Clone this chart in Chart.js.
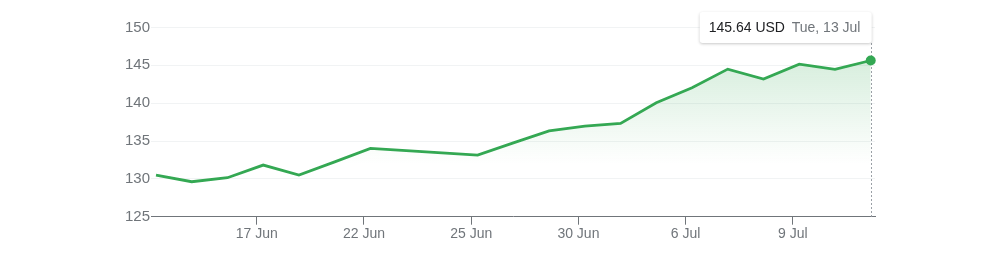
<!DOCTYPE html>
<html>
<head>
<meta charset="utf-8">
<script src="https://cdn.jsdelivr.net/npm/chart.js@4"></script>
<style>
  html, body { margin: 0; padding: 0; background: #fff; }
  #wrap { width: 1000px; height: 255px; }
</style>
</head>
<body>
<div id="wrap"><canvas id="priceChart" width="1000" height="255"></canvas></div>
<script>
// trading days, 14 Jun - 13 Jul
const days = ['14 Jun', '15 Jun', '16 Jun', '17 Jun', '18 Jun', '21 Jun', '22 Jun', '23 Jun', '24 Jun', '25 Jun',
  '28 Jun', '29 Jun', '30 Jun', '1 Jul', '2 Jul', '6 Jul', '7 Jul', '8 Jul', '9 Jul', '12 Jul', '13 Jul'];
const prices = [130.5, 129.62, 130.15, 131.82, 130.5, 132.25, 134.03, 133.73, 133.43, 133.14,
  134.75, 136.35, 136.97, 137.33, 140.05, 142.03, 144.5, 143.18, 145.16, 144.46, 145.64];
const tickDays = ['17 Jun', '22 Jun', '25 Jun', '30 Jun', '6 Jul', '9 Jul'];
const yTicks = [125, 130, 135, 140, 145, 150];
const lastLabel = { price: '145.64 USD', date: 'Tue, 13 Jul' };

const green = '#34a853';
const grey = '#70757a';
const font = "Arial, 'Liberation Sans', sans-serif";

// persistent hover box + dotted line on the last point
const lastPointBox = {
  id: 'lastPointBox',
  afterDatasetsDraw(chart) {
    const ctx = chart.ctx;
    const xs = chart.scales.x, ys = chart.scales.y;
    const i = prices.length - 1;
    const px = xs.getPixelForValue(i);
    const py = ys.getPixelForValue(prices[i]);
    const boxR = px + 1, boxL = boxR - 172, boxT = 12, boxB = 43;

    ctx.save();
    ctx.strokeStyle = '#9aa0a6';
    ctx.lineWidth = 1;
    ctx.setLineDash([2, 2]);
    ctx.beginPath();
    ctx.moveTo(Math.round(px) + 0.5, boxB);
    ctx.lineTo(Math.round(px) + 0.5, ys.bottom);
    ctx.stroke();
    ctx.setLineDash([]);

    ctx.shadowColor = 'rgba(0,0,0,0.22)';
    ctx.shadowBlur = 3;
    ctx.shadowOffsetY = 1;
    ctx.fillStyle = '#fff';
    ctx.beginPath();
    ctx.roundRect(boxL, boxT, boxR - boxL, boxB - boxT, 3);
    ctx.fill();
    ctx.shadowColor = 'transparent';

    ctx.font = '14px ' + font;
    ctx.textBaseline = 'middle';
    ctx.fillStyle = '#202124';
    ctx.fillText(lastLabel.price, boxL + 9, 28);
    ctx.fillStyle = grey;
    ctx.fillText(lastLabel.date, boxL + 92, 28);

    ctx.fillStyle = green;
    ctx.beginPath();
    ctx.arc(px, py, 5, 0, Math.PI * 2);
    ctx.fill();
    ctx.restore();
  }
};

new Chart(document.getElementById('priceChart').getContext('2d'), {
  type: 'line',
  data: {
    labels: days,
    datasets: [{
      data: prices.map((p, i) => ({ x: i, y: p })),
      borderColor: green,
      borderWidth: 2.8,
      pointRadius: 0,
      tension: 0,
      fill: 'start',
      backgroundColor: (c) => {
        const { chart } = c;
        const ys = chart.scales.y;
        if (!chart.chartArea || !ys) return 'rgba(52,168,83,0.1)';
        const y0 = ys.getPixelForValue(146), y1 = ys.getPixelForValue(132);
        if (!isFinite(y0) || !isFinite(y1)) return 'rgba(52,168,83,0.1)';
        const g = chart.ctx.createLinearGradient(0, y0, 0, y1);
        g.addColorStop(0, 'rgba(52,168,83,0.2)');
        g.addColorStop(1, 'rgba(52,168,83,0)');
        return g;
      }
    }]
  },
  options: {
    responsive: false,
    animation: false,
    layout: { padding: { left: 0, right: 125, top: 27.5, bottom: 0 } },
    plugins: { legend: { display: false }, tooltip: { enabled: false } },
    scales: {
      x: {
        type: 'linear',
        min: -0.14,
        max: 20.12,
        afterBuildTicks: (s) => {
          s.ticks = tickDays.map(d => ({ value: days.indexOf(d) - 0.18 }));
        },
        afterFit: (s) => { s.height = 38.3; },
        ticks: {
          autoSkip: false,
          maxRotation: 0,
          padding: 1,
          color: grey,
          font: { family: font, size: 14 },
          callback: (v) => days[Math.round(v)]
        },
        grid: { drawOnChartArea: false, drawTicks: true, tickLength: 8, color: grey },
        border: { display: true, color: grey, width: 1 }
      },
      y: {
        min: 125,
        max: 150,
        afterBuildTicks: (s) => { s.ticks = yTicks.map(v => ({ value: v })); },
        afterFit: (s) => { s.width = 151; },
        ticks: {
          padding: 1,
          color: grey,
          font: { family: font, size: 15 }
        },
        grid: { color: '#f1f3f4', drawTicks: false },
        border: { display: false }
      }
    }
  },
  plugins: [lastPointBox]
});
</script>
</body>
</html>
